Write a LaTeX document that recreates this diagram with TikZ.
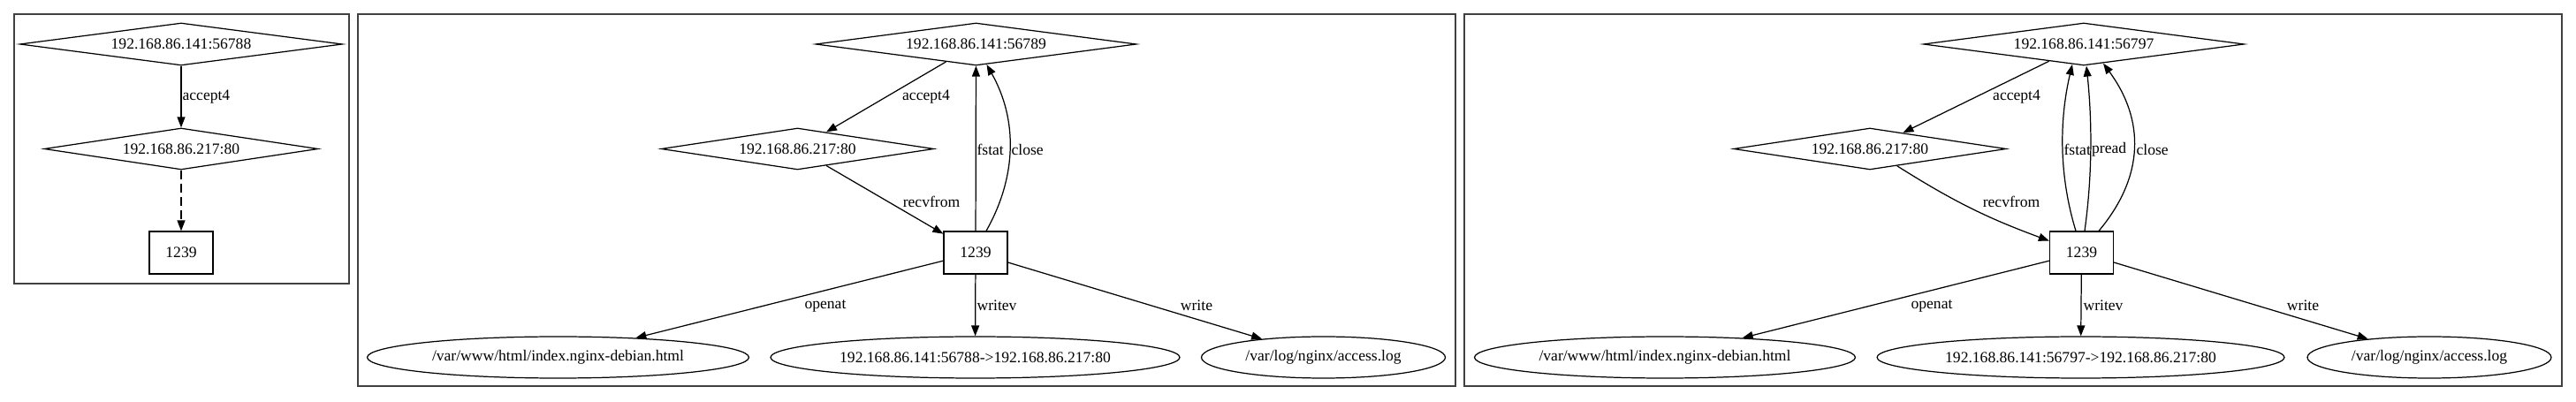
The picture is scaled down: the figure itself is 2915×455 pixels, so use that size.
\documentclass[tikz,border=0pt]{standalone}
\usepackage{fontspec}
\setmainfont{Liberation Serif}
\usetikzlibrary{shapes.geometric,arrows.meta,positioning}

\begin{document}
\begin{tikzpicture}[
    x=0.02cm, y=-0.02cm,
    font=\fontsize{10pt}{12pt}\selectfont,
    line width=0.7pt,
    saddr/.style={diamond, draw, aspect=7, inner sep=0pt, minimum width=7.26cm, minimum height=0.96cm},
    daddr/.style={diamond, draw, aspect=7, inner sep=0pt, minimum width=6.17cm, minimum height=0.94cm},
    proc/.style={rectangle, draw, minimum width=1.44cm, minimum height=0.96cm},
    res/.style={ellipse, draw, inner sep=0pt, minimum height=0.94cm},
    edge/.style={-{Triangle[length=0.24cm, width=0.18cm]}, black},
    lbl/.style={inner sep=0pt},
    frame/.style={draw=black!75, line width=0.7pt}
]
    \useasboundingbox (0,0) rectangle (2915,455);

    % === Cluster 1 ===
    \draw[frame] (16,16) rectangle (395,321);
    \node[saddr, minimum width=7.3cm] (src1) at (205,50) {192.168.86.141:56788};
    \node[daddr, minimum width=6.2cm] (dst1) at (205,168.5) {192.168.86.217:80};
    \node[proc] (proc1) at (205,286) {1239};

    \draw[edge] (src1) -- (dst1);
    \draw[edge, dash pattern=on 0.2cm off 0.1cm] (dst1) -- (proc1);

    \node[lbl, anchor=west] (l1a) at (206,110) {accept4};

    % === Cluster 2 ===
    \draw[frame] (405,16) rectangle (1647,437);
    \node[saddr] (src2) at (1104.5,50) {192.168.86.141:56789};
    \node[daddr] (dst2) at (902.5,168.5) {192.168.86.217:80};
    \node[proc] (proc2) at (1104,286) {1239};
    \node[res, minimum width=8.64cm] (html2) at (631.5,404.5) {/var/www/html/index.nginx-debian.html};
    \node[res, minimum width=9.26cm] (sock2) at (1103.5,404.5) {192.168.86.141:56788->192.168.86.217:80};
    \node[res, minimum width=5.52cm] (log2) at (1497.5,404.5) {/var/log/nginx/access.log};

    % connection
    \draw[edge] (src2) -- (dst2);
    \draw[edge] (dst2) -- (proc2);
    % syscalls back to the client
    \draw[edge] (proc2) -- (src2);
    \draw[edge] ([xshift=0.24cm]proc2.north) .. controls +(35,-62) and +(35,62) .. ([xshift=0.24cm, yshift=0.03cm]src2.south);
    % files
    \draw[edge] (proc2) -- (html2);
    \draw[edge] (proc2) -- (sock2);
    \draw[edge] (proc2) -- (log2);

    \node[lbl] (l2a) at (1048,110) {accept4};
    \node[lbl] (l2b) at (1054,228) {recvfrom};
    \node[lbl, anchor=west] (l2c) at (1105,169) {fstat};
    \node[lbl, anchor=west] (l2d) at (1144,169) {close};
    \node[lbl] (l2e) at (934,346) {openat};
    \node[lbl, anchor=west] (l2f) at (1105,346) {writev};
    \node[lbl] (l2g) at (1354,346) {write};

    % === Cluster 3 ===
    \draw[frame] (1657,16) rectangle (2899,437);
    \node[saddr] (src3) at (2358,50) {192.168.86.141:56797};
    \node[daddr] (dst3) at (2116,168.5) {192.168.86.217:80};
    \node[proc] (proc3) at (2355.5,286) {1239};
    \node[res, minimum width=8.62cm] (html3) at (1884,404.5) {/var/www/html/index.nginx-debian.html};
    \node[res, minimum width=9.22cm] (sock3) at (2354.5,404.5) {192.168.86.141:56797->192.168.86.217:80};
    \node[res, minimum width=5.52cm] (log3) at (2749,404.5) {/var/log/nginx/access.log};

    % connection
    \draw[edge] (src3) -- (dst3);
    \draw[edge] (dst3) to[bend right=6] (proc3);
    % syscalls back to the client
    \draw[edge] ([xshift=-0.13cm]proc3.north) .. controls +(-19,-62) and +(-15,64) .. ([xshift=-0.26cm, yshift=0.035cm]src3.south);
    \draw[edge] ([xshift=0.07cm]proc3.north) .. controls +(8.6,-62) and +(6.6,64) .. ([xshift=0.06cm]src3.south);
    \draw[edge] ([xshift=0.39cm]proc3.north) .. controls +(52,-62) and +(47,64) .. ([xshift=0.44cm, yshift=0.058cm]src3.south);
    % files
    \draw[edge] (proc3) -- (html3);
    \draw[edge] (proc3) -- (sock3);
    \draw[edge] (proc3) -- (log3);

    \node[lbl] (l3a) at (2282,110) {accept4};
    \node[lbl] (l3b) at (2276,228) {recvfrom};
    \node[lbl, anchor=west] (l3c) at (2335,169) {fstat};
    \node[lbl, anchor=west] (l3d) at (2366.5,169) {pread};
    \node[lbl, anchor=west] (l3e) at (2417,169) {close};
    \node[lbl] (l3f) at (2186,346) {openat};
    \node[lbl, anchor=west] (l3g) at (2357,346) {writev};
    \node[lbl] (l3h) at (2606,346) {write};
\end{tikzpicture}
\end{document}
